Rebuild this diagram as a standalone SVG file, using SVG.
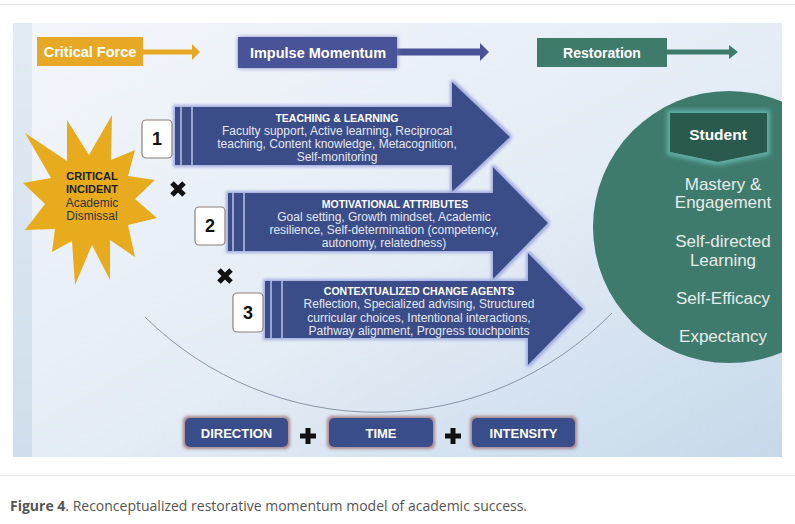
<svg xmlns="http://www.w3.org/2000/svg" width="795" height="524" viewBox="0 0 795 524">
<defs>
<linearGradient id="bg" x1="0" y1="0" x2="1" y2="1">
<stop offset="0" stop-color="#f3f6fb"/>
<stop offset="0.55" stop-color="#e4ecf5"/>
<stop offset="1" stop-color="#c6d9ea"/>
</linearGradient>
<linearGradient id="strip" x1="0" y1="0" x2="0" y2="1">
<stop offset="0" stop-color="#e2ebf4"/>
<stop offset="1" stop-color="#cfdeec"/>
</linearGradient>
<filter id="glowA" x="-5%" y="-10%" width="110%" height="120%">
<feMorphology in="SourceAlpha" operator="dilate" radius="1.5" result="d"/>
<feGaussianBlur in="d" stdDeviation="1.6" result="b"/>
<feFlood flood-color="#a3aee2"/>
<feComposite in2="b" operator="in" result="g"/>
<feMerge><feMergeNode in="g"/><feMergeNode in="SourceGraphic"/></feMerge>
</filter>
<filter id="glowB" x="-10%" y="-30%" width="120%" height="160%">
<feMorphology in="SourceAlpha" operator="dilate" radius="1.5" result="d"/>
<feGaussianBlur in="d" stdDeviation="1.5" result="b"/>
<feFlood flood-color="#a8868e"/>
<feComposite in2="b" operator="in" result="g"/>
<feMerge><feMergeNode in="g"/><feMergeNode in="SourceGraphic"/></feMerge>
</filter>
<filter id="glowT" x="-15%" y="-30%" width="130%" height="160%">
<feMorphology in="SourceAlpha" operator="dilate" radius="2.5" result="d"/>
<feGaussianBlur in="d" stdDeviation="2" result="b"/>
<feFlood flood-color="#5fb0a5"/>
<feComposite in2="b" operator="in" result="g"/>
<feMerge><feMergeNode in="g"/><feMergeNode in="SourceGraphic"/></feMerge>
</filter>
<filter id="glowI" x="-10%" y="-30%" width="120%" height="160%">
<feGaussianBlur in="SourceAlpha" stdDeviation="2" result="b"/>
<feFlood flood-color="#7d83c4"/>
<feComposite in2="b" operator="in" result="g"/>
<feMerge><feMergeNode in="g"/><feMergeNode in="SourceGraphic"/></feMerge>
</filter>
<clipPath id="panelClip"><rect x="13" y="23" width="769" height="434"/></clipPath>
<style>
.t{font-family:"Liberation Sans",Arial,sans-serif;}
.hdr{font-family:"Liberation Sans",Arial,sans-serif;font-weight:bold;fill:#fff;text-anchor:middle;}
.arw{fill:#3b4d88;filter:url(#glowA);}
.stp{stroke:#b9c3e8;stroke-width:1.5;}
.ttl{font-family:"Liberation Sans",Arial,sans-serif;font-weight:bold;font-size:10.5px;fill:#fff;text-anchor:middle;}
.bd{font-family:"Liberation Sans",Arial,sans-serif;font-size:12px;fill:#e4e7f3;text-anchor:middle;}
.num{fill:#fff;stroke:#8e8078;stroke-width:1.2;}
.numt{font-family:"Liberation Sans",Arial,sans-serif;font-weight:bold;font-size:18px;fill:#111;text-anchor:middle;}
.btn{fill:#394d8a;filter:url(#glowB);}
.btnt{font-family:"Liberation Sans",Arial,sans-serif;font-weight:bold;font-size:13px;fill:#fff;text-anchor:middle;}
.ct{font-family:"Liberation Sans",Arial,sans-serif;font-size:17px;fill:#e6ece9;text-anchor:middle;}
.mark{stroke:#111;stroke-width:5;fill:none;}
</style>
</defs>
<rect x="0" y="0" width="795" height="524" fill="#fff"/>
<line x1="0" y1="4.5" x2="795" y2="4.5" stroke="#e3e3e3" stroke-width="1"/>
<g id="panel">
<rect x="13" y="23" width="769" height="434" fill="url(#bg)"/>
<rect x="13" y="23" width="19" height="434" fill="url(#strip)"/>
</g>
<g id="arc">
<path d="M145,317 A329,329 0 0,0 612,313" fill="none" stroke="#7f8a9c" stroke-width="0.9"/>
</g>
<g id="connectors">
<line x1="143" y1="52" x2="193" y2="52" stroke="#e6a825" stroke-width="5"/>
<polygon points="192,44 200,52 192,60" fill="#e6a825"/>
<line x1="397" y1="52" x2="481" y2="52" stroke="#4a5297" stroke-width="7"/>
<polygon points="480,43 489,52 480,61" fill="#4a5297"/>
<line x1="667" y1="52" x2="731" y2="52" stroke="#3f7b6b" stroke-width="5"/>
<polygon points="729,45 738,52 729,59" fill="#3f7b6b"/>
</g>
<g id="critical-force">
<rect x="37" y="37" width="106" height="29" fill="#e6a825"/>
<text class="hdr" x="90" y="57" font-size="14.5">Critical Force</text>
</g>
<g id="impulse-momentum">
<rect x="238" y="37" width="159" height="31" fill="#4a5297" filter="url(#glowI)"/>
<text class="hdr" x="318" y="58" font-size="14.5">Impulse Momentum</text>
</g>
<g id="restoration">
<rect x="537" y="38" width="130" height="29" fill="#3f7b6b"/>
<text class="hdr" x="602" y="58" font-size="14">Restoration</text>
</g>
<g id="critical-incident">
<polygon fill="#e8ab1e" points="112,115 111,160 135,150 128,176 155,180 135,199 157,218 128,225 135,257 110,240 110,280 92,245 75,285 72,241 52,252 55,229 25,230 45,204 23,183 51,178 25,133 67,161 67,120 89,155"/>
<text class="t" x="92" y="180" font-size="11" font-weight="bold" fill="#1e1e1e" text-anchor="middle">CRITICAL</text>
<text class="t" x="92" y="193" font-size="11" font-weight="bold" fill="#1e1e1e" text-anchor="middle">INCIDENT</text>
<text class="t" x="92" y="207" font-size="12" fill="#333" text-anchor="middle">Academic</text>
<text class="t" x="92" y="220" font-size="12" fill="#333" text-anchor="middle">Dismissal</text>
</g>
<g id="student">
<circle cx="729" cy="227" r="136" fill="#3f7b6c" clip-path="url(#panelClip)"/>
<path d="M670,113 H767 V152 L718,162 L670,152 Z" fill="#2c5a4d" filter="url(#glowT)"/>
<text class="hdr" x="718" y="140" font-size="15.5">Student</text>
<text class="ct" x="723" y="190">Mastery &amp;</text>
<text class="ct" x="723" y="208">Engagement</text>
<text class="ct" x="723" y="247">Self-directed</text>
<text class="ct" x="723" y="266">Learning</text>
<text class="ct" x="723" y="304">Self-Efficacy</text>
<text class="ct" x="723" y="342">Expectancy</text>
</g>
<g id="teaching-learning">
<path class="arw" d="M175,107 H452 V82 L510,137 L452,192 V165 H175 Z"/>
<line class="stp" x1="181" y1="107" x2="181" y2="165"/>
<line class="stp" x1="192" y1="107" x2="192" y2="165"/>
<text class="ttl" x="337" y="122">TEACHING &amp; LEARNING</text>
<text class="bd" x="337" y="135">Faculty support, Active learning, Reciprocal</text>
<text class="bd" x="337" y="148">teaching, Content knowledge, Metacognition,</text>
<text class="bd" x="337" y="161">Self-monitoring</text>
</g>
<g id="motivational-attributes">
<path class="arw" d="M228,193 H493 V167 L548,223 L493,279 V251 H228 Z"/>
<line class="stp" x1="233" y1="193" x2="233" y2="251"/>
<line class="stp" x1="244" y1="193" x2="244" y2="251"/>
<text class="ttl" x="395" y="208">MOTIVATIONAL ATTRIBUTES</text>
<text class="bd" x="384" y="221">Goal setting, Growth mindset, Academic</text>
<text class="bd" x="384" y="234">resilience, Self-determination (competency,</text>
<text class="bd" x="384" y="247">autonomy, relatedness)</text>
</g>
<g id="contextualized-change-agents">
<path class="arw" d="M265,281 H528 V253 L583,309 L528,365 V338 H265 Z"/>
<line class="stp" x1="271" y1="281" x2="271" y2="338"/>
<line class="stp" x1="282" y1="281" x2="282" y2="338"/>
<text class="ttl" x="419" y="295">CONTEXTUALIZED CHANGE AGENTS</text>
<text class="bd" x="419" y="308">Reflection, Specialized advising, Structured</text>
<text class="bd" x="419" y="321.5">curricular choices, Intentional interactions,</text>
<text class="bd" x="419" y="335">Pathway alignment, Progress touchpoints</text>
</g>
<g id="step-1">
<rect class="num" x="142" y="120" width="30" height="38" rx="4"/>
<text class="numt" x="157" y="145">1</text>
</g>
<g id="step-2">
<rect class="num" x="195" y="207" width="30" height="38" rx="4"/>
<text class="numt" x="210" y="232">2</text>
</g>
<g id="step-3">
<rect class="num" x="233" y="293" width="30" height="39" rx="4"/>
<text class="numt" x="248" y="319">3</text>
</g>
<g id="times-1"><path class="mark" d="M172,183 L184,195 M184,183 L172,195"/></g>
<g id="times-2"><path class="mark" d="M219,270 L231,282 M231,270 L219,282"/></g>
<g id="direction">
<rect class="btn" x="185" y="418" width="103" height="29" rx="5"/>
<text class="btnt" x="236.5" y="437.5">DIRECTION</text>
</g>
<g id="plus-1"><path class="mark" d="M308,428 V444 M300,436 H316"/></g>
<g id="time">
<rect class="btn" x="329" y="418" width="104" height="29" rx="5"/>
<text class="btnt" x="381" y="437.5">TIME</text>
</g>
<g id="plus-2"><path class="mark" d="M453,428 V444 M445,436 H461"/></g>
<g id="intensity">
<rect class="btn" x="472" y="418" width="103" height="29" rx="5"/>
<text class="btnt" x="523.5" y="437.5">INTENSITY</text>
</g>
<line x1="0" y1="475.5" x2="795" y2="475.5" stroke="#e6e6e6" stroke-width="1"/>
<g id="caption">
<text x="10" y="511" font-family="'Open Sans','Liberation Sans',sans-serif" font-size="14" fill="#555"><tspan font-weight="bold">Figure 4</tspan>. Reconceptualized restorative momentum model of academic success.</text>
</g>
</svg>
